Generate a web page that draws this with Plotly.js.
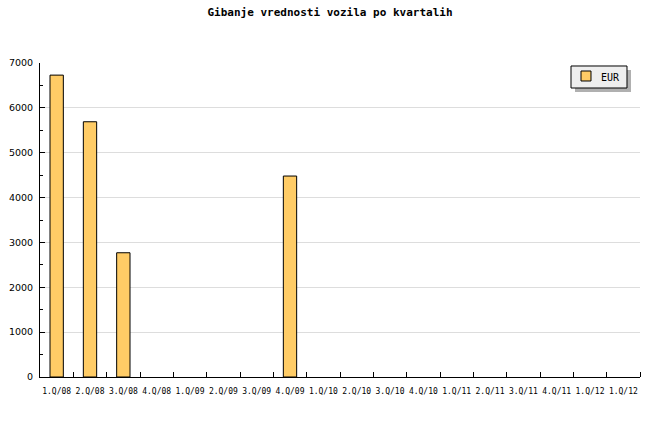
<!DOCTYPE html>
<html>
<head>
<meta charset="utf-8">
<script src="https://cdn.plot.ly/plotly-3.0.1.min.js"></script>
<style>html,body{margin:0;padding:0;background:#fff;}#chart{width:660px;height:440px;}</style>
</head>
<body>
<div id="chart"></div>
<script>
var quarterLabels = ["1.Q/08","2.Q/08","3.Q/08","4.Q/08","1.Q/09","2.Q/09","3.Q/09","4.Q/09","1.Q/10","2.Q/10","3.Q/10","4.Q/10","1.Q/11","2.Q/11","3.Q/11","4.Q/11","1.Q/12","1.Q/12"];
var eurValues = [6730, 5690, 2770, null, null, null, null, 4480, null, null, null, null, null, null, null, null, null, null];
var seriesName = "EUR";
var chartTitle = "Gibanje vrednosti vozila po kvartalih";
var barColor = '#FFCC66';

var positions = quarterLabels.map(function(_, i){ return i; });
var boundaries = quarterLabels.map(function(_, i){ return i + 0.5; });

var trace = {
  type: 'bar',
  x: positions,
  y: eurValues,
  name: seriesName,
  width: 0.4,
  marker: {color: barColor, line: {color: '#000000', width: 1}},
  showlegend: false,
  hoverinfo: 'none'
};

var layout = {
  width: 660, height: 440,
  margin: {l: 40, r: 20, t: 63, b: 63, pad: 0},
  paper_bgcolor: '#ffffff', plot_bgcolor: '#ffffff',
  title: {text: '<b>' + chartTitle + '</b>', x: 0.5, xanchor: 'center', y: 0.972, yanchor: 'middle',
          font: {family: 'DejaVu Sans Mono', size: 11, color: '#000'}},
  xaxis: {
    range: [-0.5, 17.5], tickmode: 'array', tickvals: positions, ticktext: quarterLabels,
    ticks: '', showgrid: false, zeroline: false, showline: true, linecolor: '#000', linewidth: 1,
    tickfont: {family: 'DejaVu Sans Mono', size: 8, color: '#000'}, tickangle: 0,
    ticklabelstandoff: 6,
    minor: {tickmode: 'array', tickvals: boundaries, ticks: 'inside', ticklen: 5, tickcolor: '#000', tickwidth: 1, showgrid: false}
  },
  yaxis: {
    range: [0, 7000], dtick: 1000, tick0: 0, ticks: 'inside', ticklen: 5, tickcolor: '#000', tickwidth: 1,
    showgrid: true, gridcolor: '#dddddd', gridwidth: 1, zeroline: false,
    showline: true, linecolor: '#000', linewidth: 1,
    tickfont: {family: 'DejaVu Sans', size: 9.5, color: '#000'},
    ticklabelstandoff: 4,
    minor: {dtick: 500, ticks: 'inside', ticklen: 3, tickcolor: '#000', tickwidth: 1, showgrid: false}
  },
  showlegend: false,
  shapes: [
    {type: 'rect', xref: 'paper', yref: 'paper', x0: 0.89167, x1: 0.985, y0: 0.90764, y1: 0.97771,
     fillcolor: '#b0b0b0', line: {width: 0}, layer: 'above'},
    {type: 'rect', xref: 'paper', yref: 'paper', x0: 0.885, x1: 0.97833, y0: 0.92038, y1: 0.99045,
     fillcolor: '#eeeeee', line: {color: '#000', width: 1}, layer: 'above'},
    {type: 'rect', xref: 'paper', yref: 'paper', x0: 0.90167, x1: 0.91833, y0: 0.94268, y1: 0.97452,
     fillcolor: barColor, line: {color: '#000', width: 1}, layer: 'above'}
  ],
  annotations: [
    {xref: 'paper', yref: 'paper', x: 0.93167, y: 0.95541, xanchor: 'left', yanchor: 'middle',
     text: seriesName, showarrow: false, font: {family: 'DejaVu Sans Mono', size: 10, color: '#000'}}
  ]
};

Plotly.newPlot('chart', [trace], layout, {staticPlot: true, displayModeBar: false});
</script>
</body>
</html>
